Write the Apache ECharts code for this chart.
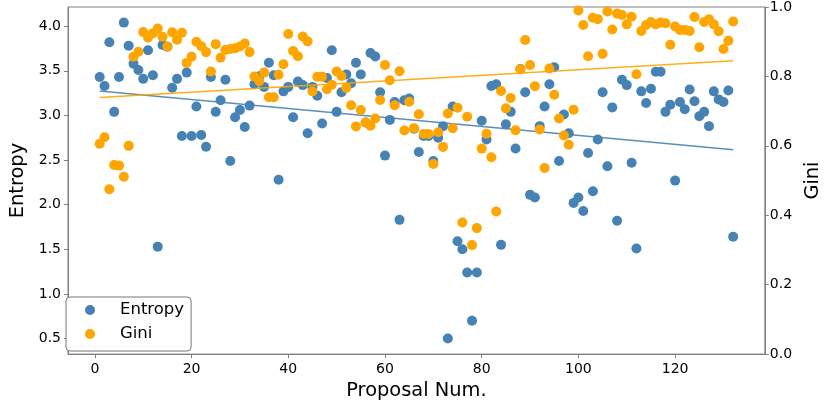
<!DOCTYPE html>
<html>
<head>
<meta charset="utf-8">
<script src="https://cdn.jsdelivr.net/npm/echarts@6/dist/echarts.min.js"></script>
<style>
html,body{margin:0;padding:0;background:#fff;}
#chart{width:830px;height:405px;}
</style>
</head>
<body>
<div id="chart"></div>
<script>
// Proposal numbers 1..132 (x)
const entropy = [
3.43,3.33,3.82,3.04,3.43,4.04,3.78,3.58,3.51,3.41,
3.73,3.45,1.53,3.79,3.77,3.31,3.41,2.77,3.48,2.77,
3.10,2.78,2.65,3.43,3.04,3.17,3.40,2.49,2.98,3.06,
2.87,3.11,3.35,3.44,3.32,3.59,3.45,2.28,3.27,3.32,
2.98,3.38,3.34,2.80,3.32,3.22,2.91,3.42,3.73,3.04,
3.26,3.46,3.36,3.59,3.46,2.92,3.70,3.66,3.26,2.55,
2.95,3.15,1.83,3.17,3.19,2.85,2.59,2.77,2.77,2.49,
2.75,2.88,0.50,3.10,1.59,1.50,1.24,0.70,1.24,2.94,
2.73,3.33,3.35,1.55,2.90,3.04,2.63,3.52,3.26,2.11,
2.08,2.88,3.10,3.35,3.54,2.49,3.01,2.80,2.02,2.08,
1.93,2.58,2.15,2.73,3.26,2.43,3.09,1.82,3.40,3.34,
2.47,1.51,3.27,3.14,3.30,3.49,3.49,3.04,3.12,2.27,
3.15,3.07,3.29,3.16,2.99,3.04,2.88,3.27,3.18,3.15,
3.28,1.64
];
const gini = [
0.606,0.625,0.475,0.545,0.543,0.511,0.600,0.857,0.871,0.928,
0.912,0.924,0.938,0.914,0.886,0.927,0.906,0.926,0.839,0.857,
0.900,0.887,0.870,0.814,0.893,0.854,0.876,0.879,0.881,0.886,
0.895,0.870,0.800,0.786,0.811,0.740,0.740,0.805,0.835,0.922,
0.873,0.858,0.915,0.901,0.757,0.799,0.799,0.763,0.776,0.814,
0.801,0.767,0.717,0.656,0.703,0.667,0.658,0.679,0.732,0.833,
0.789,0.717,0.815,0.644,0.727,0.651,0.691,0.634,0.634,0.548,
0.639,0.597,0.693,0.651,0.710,0.379,0.684,0.314,0.363,0.592,
0.635,0.567,0.411,0.758,0.708,0.738,0.645,0.821,0.905,0.833,
0.772,0.647,0.536,0.823,0.747,0.679,0.630,0.603,0.704,0.990,
0.948,0.858,0.969,0.965,0.865,0.987,0.935,0.981,0.977,0.950,
0.972,0.806,0.931,0.948,0.957,0.950,0.955,0.953,0.891,0.944,
0.934,0.934,0.931,0.971,0.884,0.957,0.965,0.950,0.930,0.879,
0.903,0.958
];
const xTicks = [0, 20, 40, 60, 80, 100, 120];
const entropyTicks = [0.5, 1.0, 1.5, 2.0, 2.5, 3.0, 3.5, 4.0];
const giniTicks = [0.0, 0.2, 0.4, 0.6, 0.8, 1.0];

const FONT = 'DejaVu Sans';
const BLUE = '#4682b4';
const ORANGE = '#ffa500';
const SPINE = '#808080';

function pairs(vals){ return vals.map((v,i)=>[i+1, v]); }
function fitLine(vals){
  const n = vals.length;
  let sx=0, sy=0, sxx=0, sxy=0;
  vals.forEach((v,i)=>{ const x=i+1; sx+=x; sy+=v; sxx+=x*x; sxy+=x*v; });
  const b = (n*sxy - sx*sy)/(n*sxx - sx*sx);
  const a = (sy - b*sx)/n;
  return [[1, a+b*1],[n, a+b*n]];
}

const chart = echarts.init(document.getElementById('chart'), null, {renderer:'canvas'});
chart.setOption({
  animation:false,
  backgroundColor:'#fff',
  textStyle:{fontFamily:FONT},
  grid:{left:58, right:59, top:7, bottom:47, show:true, borderColor:SPINE, borderWidth:1, backgroundColor:'transparent'},
  legend:{
    orient:'vertical', left:66, top:297,
    padding:[3,7,7,19], itemGap:4, itemWidth:40, itemHeight:10,
    borderColor:'#777', borderWidth:1, borderRadius:4, backgroundColor:'#fff',
    textStyle:{fontFamily:FONT, fontSize:16.5, lineHeight:20, color:'#000', padding:[0,0,0,5]},
    data:[{name:'Entropy', icon:'circle'},{name:'Gini', icon:'circle'}]
  },
  xAxis:{
    type:'value', min:-5.55, max:138.55,
    name:'Proposal Num.', nameLocation:'middle', nameGap:23,
    nameTextStyle:{fontFamily:FONT, fontSize:19.4, color:'#000'},
    axisLine:{show:true, onZero:false, lineStyle:{color:SPINE, width:1}},
    axisTick:{show:true, length:4, customValues:xTicks, lineStyle:{color:SPINE}},
    axisLabel:{customValues:xTicks, fontFamily:FONT, fontSize:14, color:'#000', margin:8},
    splitLine:{show:false}
  },
  yAxis:[{
    type:'value', position:'left', min:0.326, max:4.215,
    name:'Entropy', nameLocation:'middle', nameGap:41,
    nameTextStyle:{fontFamily:FONT, fontSize:19.4, color:'#000'},
    axisLine:{show:true, onZero:false, lineStyle:{color:SPINE, width:1}},
    axisTick:{show:true, length:4, customValues:entropyTicks, lineStyle:{color:SPINE}},
    axisLabel:{customValues:entropyTicks, fontFamily:FONT, fontSize:14, color:'#000', margin:7,
      formatter:v=>Number(v).toFixed(1)},
    splitLine:{show:false}
  },{
    type:'value', position:'right', min:0, max:1, interval:0.2,
    name:'Gini', nameLocation:'middle', nameGap:36,
    nameTextStyle:{fontFamily:FONT, fontSize:19.4, color:'#000'},
    axisLine:{show:true, onZero:false, lineStyle:{color:SPINE, width:1}},
    axisTick:{show:true, length:4, lineStyle:{color:SPINE}},
    axisLabel:{fontFamily:FONT, fontSize:14, color:'#000', margin:5,
      formatter:v=>Number(v).toFixed(1)},
    splitLine:{show:false}
  }],
  series:[
    {name:'Entropy', type:'scatter', yAxisIndex:0, data:pairs(entropy), symbolSize:10,
     itemStyle:{color:BLUE, opacity:1}, z:2, emphasis:{disabled:true}},
    {name:'EntropyFit', type:'line', yAxisIndex:0, data:fitLine(entropy), symbol:'none',
     lineStyle:{color:BLUE, width:1.5, opacity:0.9}, z:3, silent:true},
    {name:'Gini', type:'scatter', yAxisIndex:1, data:pairs(gini), symbolSize:10,
     itemStyle:{color:ORANGE, opacity:1}, z:4, emphasis:{disabled:true}},
    {name:'GiniFit', type:'line', yAxisIndex:1, data:fitLine(gini), symbol:'none',
     lineStyle:{color:ORANGE, width:1.5, opacity:0.9}, z:5, silent:true}
  ]
});
</script>
</body>
</html>
